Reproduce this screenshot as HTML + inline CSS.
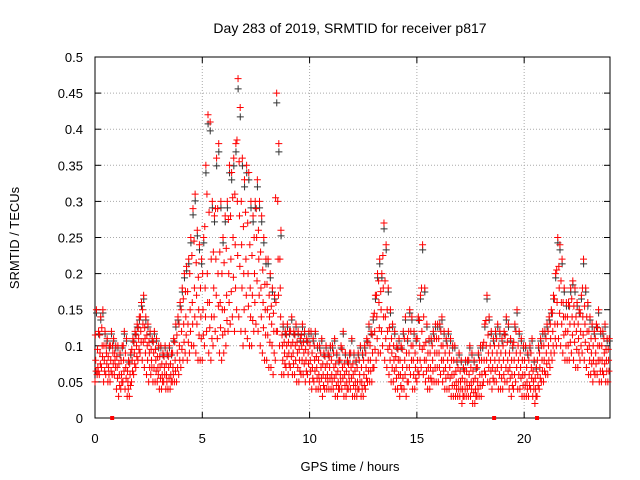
<!DOCTYPE html>
<html><head><meta charset="utf-8"><style>
html,body{margin:0;padding:0;background:#fff;}
svg{display:block;font-family:"Liberation Sans",sans-serif;}
</style></head><body>
<svg id="chart" width="640" height="480" viewBox="0 0 640 480">
<rect width="640" height="480" fill="#fff"/>
<text x="350" y="33" font-size="14" text-anchor="middle">Day 283 of 2019, SRMTID for receiver p817</text>
<g id="grid"></g>
<g id="axes"></g>
<g id="pts-black"></g>
<g id="pts-red"></g>
<text x="350" y="471" font-size="13" text-anchor="middle">GPS time / hours</text>
<text transform="translate(19,238) rotate(-90)" font-size="13" text-anchor="middle">SRMTID / TECUs</text>
</svg>
<script>
const xTicks=[0,5,10,15,20];
const yTicks=[0,0.05,0.1,0.15,0.2,0.25,0.3,0.35,0.4,0.45,0.5];
const yTickLabels=["0","0.05","0.1","0.15","0.2","0.25","0.3","0.35","0.4","0.45","0.5"];
const stepHours=0.1;
const midVals=[8,7,9,10,8,9,7,8,9,8, 7,6,6,8,7,5,6,8,9,10, 11,12,13,11,10,9,8,9,8,7, 7,6,7,6,7,6,7,8,9,10,
12,13,14,13,15,16,18,17,15,14, 15,18,20,16,14,18,22,20,16,15, 15,17,20,22,25,24,30,28,24,20, 22,20,18,17,20,25,22,18,16,15,
15,14,13,12,16,22,18,10,9,10, 9,10,9,10,9,8,10,9,8,9, 8,7,8,7,6,7,6,7,6,7, 6,7,6,5,6,7,6,5,6,7,
6,5,5,6,5,6,7,8,8,9, 12,14,16,15,18,14,12,10,9,8, 7,8,6,7,8,7,9,10,8,7, 8,10,12,10,8,7,7,8,9,9,
9,10,8,7,8,7,6,6,5,5, 5,4,5,5,6,5,5,4,5,6, 6,8,10,9,8,7,8,9,8,7, 8,9,8,7,6,8,9,8,7,6,
6,5,6,7,5,4,6,7,8,8, 9,10,11,12,13,16,18,16,14,12, 12,13,14,13,12,11,12,14,13,12, 10,9,8,9,10,8,8,9,8,8];
const loVals=[5,6,6,7,5,6,5,5,6,6, 4,3,4,5,4,3,3,5,6,7, 8,9,8,7,6,5,6,5,5,5, 4,4,5,4,4,4,5,5,5,6,
7,8,9,8,9,10,10,9,8,8, 8,10,12,9,8,10,12,11,9,8, 9,10,12,13,14,12,15,14,12,10, 12,11,10,10,12,13,12,10,9,8,
8,7,7,6,8,12,10,6,6,7, 6,7,6,6,5,5,6,6,5,6, 5,4,5,4,4,4,3,4,4,4, 4,4,3,3,4,4,3,3,4,4,
3,3,3,4,3,3,4,5,5,5, 7,8,9,9,10,8,7,6,5,5, 4,4,3,4,4,3,5,6,4,4, 5,6,7,6,5,4,4,5,5,5,
5,6,5,4,4,4,3,3,3,3, 3,2,3,3,3,3,2,2,3,3, 3,5,6,5,5,4,5,5,4,4, 4,5,5,4,3,4,5,4,4,3,
3,3,3,4,3,2,3,4,5,5, 6,6,7,8,9,10,11,10,9,8, 8,8,9,8,7,7,8,9,8,7, 6,6,5,6,6,5,5,6,5,5];
const hiVals=[15,12,14,15,12,11,10,12,11,10, 10,9,10,12,11,8,9,11,12,13, 14,16,17,14,13,12,11,12,11,10, 10,9,10,9,10,9,11,13,14,16,
18,20,21,22,25,29,31,26,24,22, 25,35,42,41,30,28,36,38,30,25, 28,30,35,34,36,38,47,43,36,33, 35,34,30,28,30,33,30,28,25,22,
22,20,18,17,45,38,26,13,12,13, 12,14,12,13,12,11,13,12,11,12, 12,11,12,10,10,11,9,10,9,10, 10,11,9,8,10,12,9,8,9,11,
9,8,9,10,9,10,11,13,12,14, 17,20,22,20,27,24,18,15,13,12, 10,11,10,12,14,11,15,14,12,11, 14,17,24,18,13,11,11,12,13,13,
13,14,12,11,12,11,10,10,8,9, 8,7,8,8,10,9,8,7,9,10, 10,13,17,14,12,11,12,13,12,11, 12,14,13,11,10,13,15,12,11,10,
10,9,10,11,8,7,10,11,12,12, 13,14,15,17,20,25,24,22,18,16, 16,18,19,18,16,15,17,22,18,16, 14,13,12,13,15,12,12,13,11,11];
const zeroMarks=[0.8,18.6,20.6];

const NS="http://www.w3.org/2000/svg";
const X0=95,X1=610,Y0=418,Y1=57;
const xs=t=>X0+(X1-X0)*t/24;
const ys=v=>Y0-(Y0-Y1)*v/0.5;
function mk(tag,attrs,parent){const e=document.createElementNS(NS,tag);for(const k in attrs)e.setAttribute(k,attrs[k]);parent.appendChild(e);return e;}
const grid=document.getElementById('grid'),axes=document.getElementById('axes');
yTicks.forEach((v,i)=>{const y=ys(v);
 if(i>0&&i<yTicks.length-1){const l=mk('line',{x1:X0,x2:X1,y1:y,y2:y,stroke:'#aaa','stroke-dasharray':'1,2'},grid);
 
 }
 mk('line',{x1:X0,x2:X0+6,y1:y,y2:y,stroke:'#000'},axes);
 mk('line',{x1:X1,x2:X1-6,y1:y,y2:y,stroke:'#000'},axes);
 const t=mk('text',{x:X0-12,y:y+5,'font-size':13,'text-anchor':'end'},axes);t.textContent=yTickLabels[i];
 
 
});
xTicks.forEach(v=>{const x=xs(v);
 if(v>0){const l=mk('line',{x1:x,x2:x,y1:Y0,y2:Y1,stroke:'#aaa','stroke-dasharray':'1,2'},grid);
 
 }
 mk('line',{x1:x,x2:x,y1:Y0,y2:Y0-6,stroke:'#000'},axes);
 mk('line',{x1:x,x2:x,y1:Y1,y2:Y1+6,stroke:'#000'},axes);
 const t=mk('text',{x:x,y:443,'font-size':13,'text-anchor':'middle'},axes);t.textContent=String(v);
 
 
});
mk('rect',{x:X0,y:Y1,width:X1-X0,height:Y0-Y1,fill:'none',stroke:'#000'},axes);
function plus(g,x,y,c){let d='M'+(x-3.5)+' '+y+'h7M'+x+' '+(y-3.5)+'v7';const p=mk('path',{d:d,stroke:c,'stroke-width':1,fill:'none'},g);
 
 }
const gb=document.getElementById('pts-black'),gr=document.getElementById('pts-red');
midVals.forEach((v,i)=>{const t=i*stepHours;
 plus(gb,xs(t+0.07),ys(hiVals[i]/100*0.97),'#333');
});
for(let i=0;i<midVals.length;i++){const t=i*stepHours;
 plus(gr,xs(t),ys(loVals[i]/100),'#f00');
 plus(gr,xs(t+0.033),ys(midVals[i]/100),'#f00');
 plus(gr,xs(t+0.066),ys(hiVals[i]/100),'#f00');
 plus(gr,xs(t+0.05),ys((midVals[i]+loVals[i])/200),'#f00');
 plus(gr,xs(t+0.016),ys((midVals[i]+hiVals[i])/200),'#f00');
}
zeroMarks.forEach(t=>{const r=mk('rect',{x:xs(t)-2,y:Y0-2,width:4,height:4,fill:'#f00'},gr);
 
 });
</script>
</body></html>
